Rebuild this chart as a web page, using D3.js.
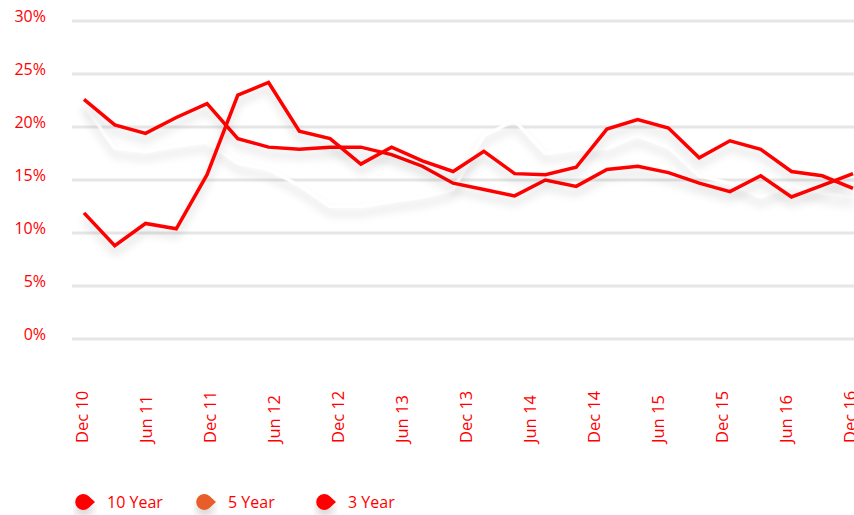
<!DOCTYPE html>
<html>
<head>
<meta charset="utf-8">
<script src="https://cdn.jsdelivr.net/npm/d3@7"></script>
<style>
body { margin: 0; background: #fff; }
text { font-family: "Open Sans", sans-serif; fill: #ff0000; }
</style>
</head>
<body>
<div id="chart"></div>
<script>
var tickLabels = ["Dec 10", "Jun 11", "Dec 11", "Jun 12", "Dec 12", "Jun 13", "Dec 13",
	"Jun 14", "Dec 14", "Jun 15", "Dec 15", "Jun 16", "Dec 16"];
var yTicks = [0, 5, 10, 15, 20, 25, 30];

// returns (%), 26 points each
var tenYear = [22.6, 20.2, 19.4, 20.9, 22.2, 18.9, 18.1, 17.9, 18.1, 18.1, 17.4, 16.3, 14.7,
	14.1, 13.5, 15.0, 14.4, 16.0, 16.3, 15.7, 14.7, 13.9, 15.4, 13.4, 14.5, 15.6];
var fiveYear = [22.1, 18.0, 17.7, 18.2, 18.6, 16.6, 16.0, 14.5, 12.5, 12.5, 13.0, 13.4, 14.1,
	19.2, 20.6, 17.5, 17.9, 18.0, 19.2, 18.1, 15.4, 14.7, 13.4, 14.5, 13.8, 13.4];
var threeYear = [11.9, 8.8, 10.9, 10.4, 15.5, 23.0, 24.2, 19.6, 18.9, 16.5, 18.1, 16.8, 15.8,
	17.7, 15.6, 15.5, 16.2, 19.8, 20.7, 19.9, 17.1, 18.7, 17.9, 15.8, 15.4, 14.2];

var legendNames = ["10 Year", "5 Year", "3 Year"];
var legendColors = ["#ff0000", "#e85d2a", "#ff0000"];

var width = 854, height = 515;

var svg = d3.select("#chart").append("svg")
	.attr("width", width)
	.attr("height", height);

var defs = svg.append("defs");
var f = defs.append("filter").attr("id", "shadow")
	.attr("x", "-10%").attr("y", "-30%").attr("width", "120%").attr("height", "180%");
f.append("feDropShadow").attr("dx", 0).attr("dy", 7).attr("stdDeviation", 4)
	.attr("flood-color", "#000").attr("flood-opacity", 0.16);

var y = d3.scaleLinear().domain([0, 30]).range([339, 21]);
var x = d3.scaleLinear().domain([0, tenYear.length - 1]).range([84, 853]);
var xLab = d3.scalePoint().domain(tickLabels).range([83, 851]);

// gridlines
svg.append("g").selectAll("line").data(yTicks).enter().append("line")
	.attr("x1", 72).attr("x2", width)
	.attr("y1", function(d) { return y(d); })
	.attr("y2", function(d) { return y(d); })
	.attr("stroke", "#e6e6e6")
	.attr("stroke-width", 3);

// y labels
svg.append("g").selectAll("text").data(yTicks).enter().append("text")
	.attr("x", 46)
	.attr("y", function(d) { return y(d) + 1; })
	.attr("text-anchor", "end")
	.style("font-size", "16px")
	.text(function(d) { return d + "%"; });

// x labels, rotated
svg.append("g").selectAll("text").data(tickLabels).enter().append("text")
	.attr("transform", function(d) { return "translate(" + xLab(d) + ",443) rotate(-90)"; })
	.attr("dy", "0.3em")
	.attr("text-anchor", "start")
	.style("font-size", "16.5px")
	.text(function(d) { return d; });

var line = d3.line()
	.x(function(d, i) { return x(i); })
	.y(function(d) { return y(d); });

svg.append("path").datum(fiveYear)
	.attr("d", line)
	.attr("fill", "none")
	.attr("stroke", "#ffffff")
	.attr("stroke-width", 3)
	.attr("filter", "url(#shadow)");

[tenYear, threeYear].forEach(function(s) {
	svg.append("path").datum(s)
		.attr("d", line)
		.attr("fill", "none")
		.attr("stroke", "#ff0000")
		.attr("stroke-width", 3.5)
		.attr("filter", "url(#shadow)");
});

// legend
var legendX = [107, 228, 348];
var lg = svg.append("g");
legendNames.forEach(function(name, i) {
	var g = lg.append("g").attr("transform", "translate(" + legendX[i] + ",502)");
	g.append("path")
		.attr("d", "M-12,0 L-18.5,-6 A8,8 0 1,0 -18.5,6 Z")
		.attr("fill", legendColors[i])
		.attr("filter", "url(#shadow)");
	g.append("text")
		.attr("x", 0)
		.attr("y", 6)
		.style("font-size", "16px")
		.text(name);
});
</script>
</body>
</html>
